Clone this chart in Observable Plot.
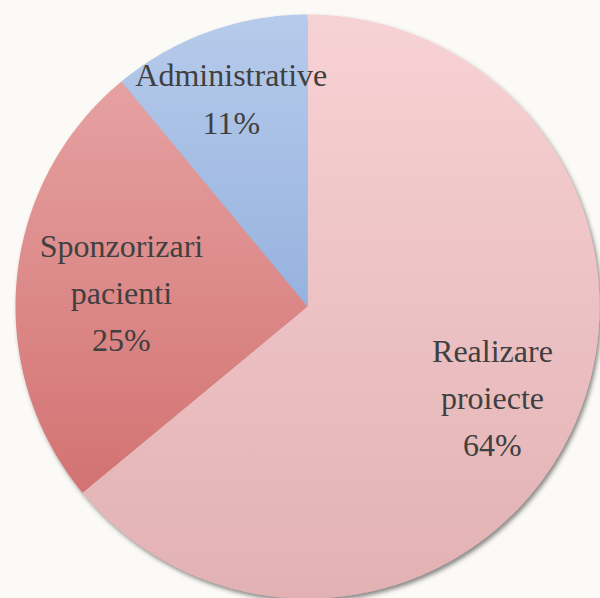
<!DOCTYPE html>
<html>
<head>
<meta charset="utf-8">
<script src="https://cdn.jsdelivr.net/npm/d3@7"></script>
<script src="https://cdn.jsdelivr.net/npm/@observablehq/plot@0.6"></script>
<style>
  html, body { margin: 0; padding: 0; background: #fcfaf6; }
  #chart svg { display: block; }
</style>
</head>
<body>
<div id="chart"></div>
<script>
// ---- data ----
const categories = ["Realizare proiecte", "Sponzorizari pacienti", "Administrative"];
const percents = [64, 25, 11];
const colorsTop = ["#f7d2d4", "#e6a1a1", "#b7cbeb"];
const colorsBottom = ["#e2b1b3", "#d37272", "#96b2df"];

// ---- layout from data ----
const data = categories.map((c, i) => ({category: c, value: percents[i], i}));
const arcs = d3.pie().sort(null).value(d => d.value)(data);

const polyPts = [];
arcs.forEach(a => {
  const id = "url(#grad" + a.data.i + ")";
  polyPts.push({x: 0, y: 0, key: a.data.category, fill: id});
  const n = Math.max(2, Math.ceil((a.endAngle - a.startAngle) / (Math.PI / 360)));
  for (let k = 0; k <= n; k++) {
    const t = a.startAngle + (a.endAngle - a.startAngle) * k / n;
    polyPts.push({x: Math.sin(t), y: Math.cos(t), key: a.data.category, fill: id});
  }
  polyPts.push({x: 0, y: 0, key: a.data.category, fill: id});
});

// best-fit label radius (fraction of pie radius) per slice
const labelRadius = [0.70, 0.64, 0.77];
const labels = arcs.map((a, i) => {
  const m = (a.startAngle + a.endAngle) / 2;
  const r = labelRadius[i];
  return {
    x: r * Math.sin(m),
    y: r * Math.cos(m),
    text: a.data.category.replace(" ", "\n") + "\n" + a.data.value + "%"
  };
});

const svg = Plot.plot({
  width: 600,
  height: 598,
  marginLeft: 15,
  marginRight: 1,
  marginTop: 14,
  marginBottom: 0,
  style: {background: "#fcfaf6", overflow: "visible"},
  x: {domain: [-1, 1], axis: null},
  y: {domain: [-1, 1], axis: null},
  color: {type: "identity"},
  marks: [
    Plot.line(polyPts, {x: "x", y: "y", z: "key", fill: "fill", stroke: "none", curve: "linear-closed"}),
    Plot.text(labels, {
      x: "x", y: "y", text: "text",
      fontSize: 32, lineHeight: 1.47,
      fontFamily: "Liberation Serif, serif",
      fill: "#404040", textAnchor: "middle"
    })
  ]
});

// gradients + shadow
const ns = "http://www.w3.org/2000/svg";
const defs = document.createElementNS(ns, "defs");
let html = "";
colorsTop.forEach((c, i) => {
  html += `<linearGradient id="grad${i}" x1="0" y1="0" x2="0" y2="1">
    <stop offset="0" stop-color="${c}"/><stop offset="1" stop-color="${colorsBottom[i]}"/></linearGradient>`;
});
html += `<filter id="shadow" x="-10%" y="-10%" width="120%" height="120%">
  <feDropShadow dx="2" dy="3" stdDeviation="2.2" flood-color="#3a3a3a" flood-opacity="0.6"/></filter>`;
defs.innerHTML = html;
svg.insertBefore(defs, svg.firstChild);
const lineG = svg.querySelector('g[aria-label="line"]');
if (lineG) lineG.setAttribute("filter", "url(#shadow)");

document.getElementById("chart").appendChild(svg);
</script>
</body>
</html>
